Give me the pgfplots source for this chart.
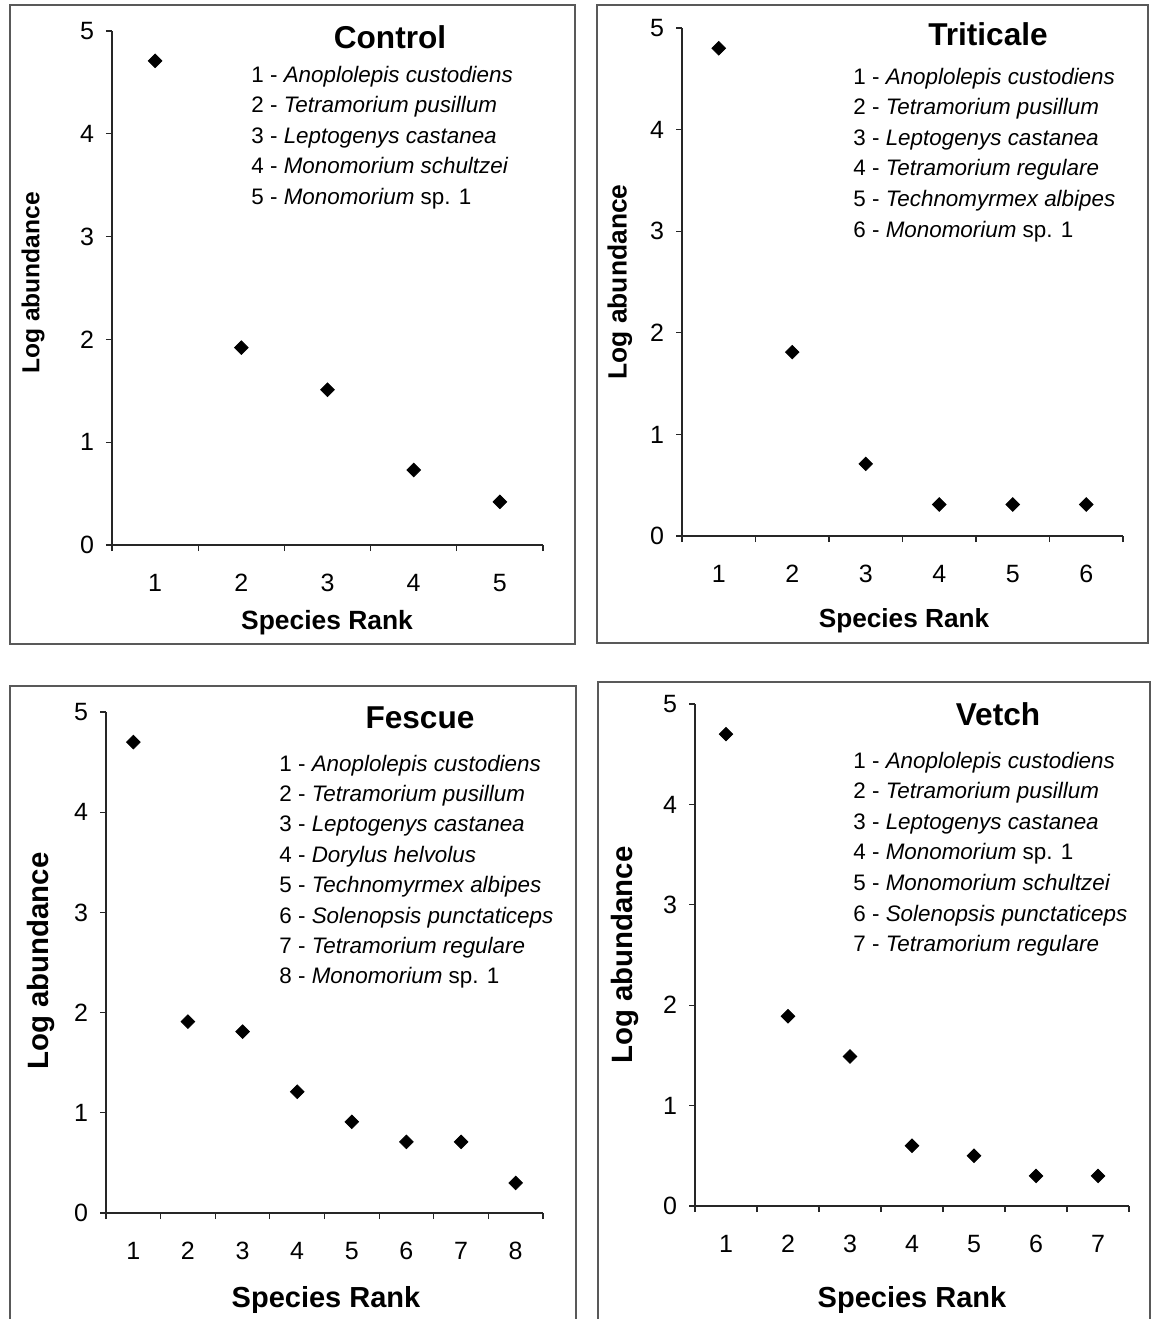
\documentclass[border=0pt]{standalone}
\usepackage{pgfplots}
\pgfplotsset{compat=1.18}
\usepackage{fontspec}
\setmainfont{Liberation Sans}
\newcommand\tfont{\fontsize{15.8}{18}\selectfont\bfseries}
\newcommand\lfont{\fontsize{11.2}{13}\selectfont}
\newcommand\spc[2]{#1 - \textit{#2}}
\pgfplotsset{
  panel/.style={
    anchor=south west, scale only axis,
    ymin=0, ymax=5, xmin=0.5,
    axis x line*=bottom, axis y line*=left,
    axis line style={black!85, line width=0.7pt},
    ytick={0,1,2,3,4,5},
    tick align=outside,
    major tick length=3pt, minor tick length=3pt,
    major x tick style={draw=none},
    minor x tick style={black!85, line width=0.6pt},
    major y tick style={black!85, line width=0.6pt},
    /pgf/number format/assume math mode=true,
    tick label style={font=\fontsize{12.5}{14}\selectfont},
    xticklabel style={anchor=center, yshift=-16pt},
    yticklabel style={anchor=center, xshift=-9.5pt},
    clip=false,
  },
  dots/.style={only marks, mark=square*, mark size=2.4pt, mark options={rotate=45, fill=black, draw=black}, color=black},
}
\begin{document}
\begin{tikzpicture}[x=0.5pt, y=-0.5pt]
\path[use as bounding box, fill=white] (0,0) rectangle (1152,1319);
% frames
\draw[line width=0.75pt, black!65] (10,5) rectangle (575,644);
\draw[line width=0.75pt, black!65] (597,5) rectangle (1148,643);
\draw[line width=0.75pt, black!65] (10,1319) -- (10,686) -- (576,686) -- (576,1319);
\draw[line width=0.75pt, black!65] (598,1319) -- (598,682) -- (1150,682) -- (1150,1319);

% ---------- Control ----------
\begin{axis}[panel, at={(56pt,-272.5pt)}, width=215.5pt, height=257pt,
  xmax=5.5, xtick={1,2,3,4,5}, minor xtick={0.5,1.5,2.5,3.5,4.5,5.5}]
\addplot[dots] coordinates {(1,4.71) (2,1.92) (3,1.51) (4,0.73) (5,0.42)};
\end{axis}
% ---------- Triticale ----------
\begin{axis}[panel, at={(341pt,-268pt)}, width=220.5pt, height=254pt,
  xmax=6.5, xtick={1,2,3,4,5,6}, minor xtick={0.5,1.5,2.5,3.5,4.5,5.5,6.5}]
\addplot[dots] coordinates {(1,4.80) (2,1.81) (3,0.71) (4,0.31) (5,0.31) (6,0.31)};
\end{axis}
% ---------- Fescue ----------
\begin{axis}[panel, at={(53pt,-606.5pt)}, width=218.5pt, height=250.5pt,
  xmax=8.5, xtick={1,2,3,4,5,6,7,8}, minor xtick={0.5,1.5,2.5,3.5,4.5,5.5,6.5,7.5,8.5}]
\addplot[dots] coordinates {(1,4.70) (2,1.91) (3,1.81) (4,1.21) (5,0.91) (6,0.71) (7,0.71) (8,0.30)};
\end{axis}
% ---------- Vetch ----------
\begin{axis}[panel, at={(347.5pt,-603pt)}, width=217pt, height=251pt,
  xmax=7.5, xtick={1,2,3,4,5,6,7}, minor xtick={0.5,1.5,2.5,3.5,4.5,5.5,6.5,7.5}]
\addplot[dots] coordinates {(1,4.70) (2,1.89) (3,1.49) (4,0.60) (5,0.50) (6,0.30) (7,0.30)};
\end{axis}

% axis labels
\begin{scope}[every node/.style={inner sep=0pt}]
\node[anchor=base, font=\fontsize{13.2}{16}\selectfont\bfseries] at (327,629.5) {Species Rank};
\node[anchor=base, font=\fontsize{13.1}{16}\selectfont\bfseries] at (904,627.5) {Species Rank};
\node[anchor=base, font=\fontsize{14.5}{17}\selectfont\bfseries] at (326,1307) {Species Rank};
\node[anchor=base, font=\fontsize{14.5}{17}\selectfont\bfseries] at (912,1307) {Species Rank};
\node[anchor=base, rotate=90, font=\fontsize{12.3}{15}\selectfont\bfseries] at (39.5,283) {Log abundance};
\node[anchor=base, rotate=90, font=\fontsize{13.2}{16}\selectfont\bfseries] at (626.5,282) {Log abundance};
\node[anchor=base, rotate=90, font=\fontsize{14.7}{17}\selectfont\bfseries] at (48,961) {Log abundance};
\node[anchor=base, rotate=90, font=\fontsize{14.7}{17}\selectfont\bfseries] at (632.5,955) {Log abundance};
\end{scope}

% titles
\begin{scope}[every node/.style={font=\tfont, inner sep=0pt, anchor=base}]
\node at (390,48) {Control};
\node at (988,45) {Triticale};
\node at (420,728) {Fescue};
\node at (998,725) {Vetch};
\end{scope}

% species lists
\begin{scope}[every node/.style={font=\lfont, inner sep=0pt, anchor=base west}]
\node at (251,82) {\spc{1}{Anoplolepis custodiens}};
\node at (251,112.5) {\spc{2}{Tetramorium pusillum}};
\node at (251,143) {\spc{3}{Leptogenys castanea}};
\node at (251,173.5) {\spc{4}{Monomorium schultzei}};
\node at (251,204) {\spc{5}{Monomorium} sp. 1};

\node at (853,84) {\spc{1}{Anoplolepis custodiens}};
\node at (853,114.6) {\spc{2}{Tetramorium pusillum}};
\node at (853,145.2) {\spc{3}{Leptogenys castanea}};
\node at (853,175.8) {\spc{4}{Tetramorium regulare}};
\node at (853,206.4) {\spc{5}{Technomyrmex albipes}};
\node at (853,237) {\spc{6}{Monomorium} sp. 1};

\node at (279,771) {\spc{1}{Anoplolepis custodiens}};
\node at (279,801.4) {\spc{2}{Tetramorium pusillum}};
\node at (279,831.8) {\spc{3}{Leptogenys castanea}};
\node at (279,862.2) {\spc{4}{Dorylus helvolus}};
\node at (279,892.6) {\spc{5}{Technomyrmex albipes}};
\node at (279,923) {\spc{6}{Solenopsis punctaticeps}};
\node at (279,953.4) {\spc{7}{Tetramorium regulare}};
\node at (279,983.8) {\spc{8}{Monomorium} sp. 1};

\node at (853,768) {\spc{1}{Anoplolepis custodiens}};
\node at (853,798.6) {\spc{2}{Tetramorium pusillum}};
\node at (853,829.2) {\spc{3}{Leptogenys castanea}};
\node at (853,859.8) {\spc{4}{Monomorium} sp. 1};
\node at (853,890.4) {\spc{5}{Monomorium schultzei}};
\node at (853,921) {\spc{6}{Solenopsis punctaticeps}};
\node at (853,951.6) {\spc{7}{Tetramorium regulare}};
\end{scope}
\end{tikzpicture}
\end{document}
